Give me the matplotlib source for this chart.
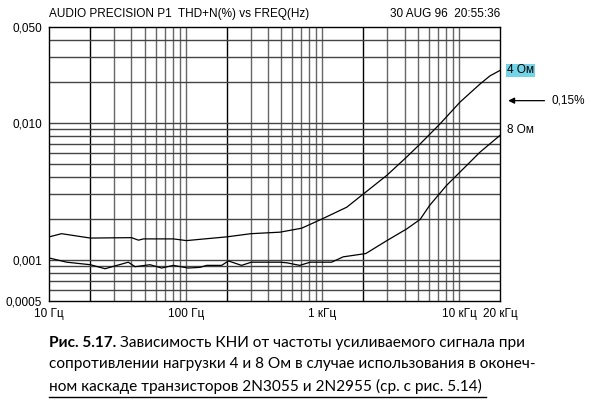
import matplotlib
matplotlib.use("Agg")
import matplotlib.pyplot as plt
from matplotlib.ticker import NullFormatter

plt.rcParams['font.family'] = ['Liberation Sans Narrow', 'Liberation Sans', 'DejaVu Sans']

# 4 Ohm load
freq4 = [10, 12.3, 20, 40, 45, 49, 81, 101, 200, 300, 490, 706, 1000, 1510,
         2080, 2965, 4150, 5200, 7280, 10200, 14300, 16900, 20000]
thd4 = [0.00147, 0.00155, 0.00144, 0.00145, 0.00139, 0.00142, 0.00142, 0.00138,
        0.00147, 0.00155, 0.00159, 0.0017, 0.00199, 0.00242, 0.00312, 0.00413,
        0.00563, 0.0070, 0.00982, 0.01416, 0.0192, 0.0220, 0.0241]

# 8 Ohm load
freq8 = [10, 13.4, 20, 25.6, 37.9, 42.5, 54.7, 66.5, 81, 104, 127, 142, 183, 205,
         256, 302, 490, 550, 683, 815, 1170, 1420, 2080, 2970, 4150, 5200, 6100,
         8100, 10200, 14300, 20000]
thd8 = [0.00103, 0.00096, 0.00092, 0.00086, 0.00096, 0.00089, 0.00092, 0.00087,
        0.00091, 0.00087, 0.00088, 0.00091, 0.00091, 0.00098, 0.00091, 0.00096,
        0.00096, 0.00095, 0.00091, 0.00096, 0.00096, 0.00105, 0.00111, 0.00138,
        0.00168, 0.00197, 0.00249, 0.00348, 0.00437, 0.00611, 0.00809]

xticks = [10, 100, 1000, 10000, 20000]
xlabels = ['10 Гц', '100 Гц', '1 кГц', '10 кГц', '20 кГц']
yticks = [0.0005, 0.001, 0.01, 0.05]
ylabels = ['0,0005', '0,001', '0,010', '0,050']

caption = ['Зависимость КНИ от частоты усиливаемого сигнала при',
           'сопротивлении нагрузки 4 и 8 Ом в случае использования в оконеч-',
           'ном каскаде транзисторов 2N3055 и 2N2955 (ср. с рис. 5.14)']

fig = plt.figure(figsize=(5.91, 4.0), dpi=100)
ax = fig.add_axes([0.0834, 0.2475, 0.7626, 0.685])
ax.set_xscale('log')
ax.set_yscale('log')
ax.set_xlim(10, 20000)
ax.set_ylim(0.0005, 0.05)

# grid: every 1..9 step of each decade
for dec in [10, 100, 1000, 10000]:
    for m in range(1, 10):
        f = dec * m
        if f <= 10 or f >= 20000:
            continue
        col = 'black' if m == 2 else '#666666'
        ax.axvline(f, color=col, lw=1.0, zorder=1)
for dec in [0.0001, 0.001, 0.01]:
    for m in range(1, 10):
        v = dec * m
        if v <= 0.0005 or v >= 0.05:
            continue
        ax.axhline(v, color='#444444', lw=1.0, zorder=1)

ax.plot(freq4, thd4, color='black', lw=0.9, zorder=3)
ax.plot(freq8, thd8, color='black', lw=0.9, zorder=3)

ax.set_xticks(xticks)
ax.set_xticklabels(xlabels)
ax.set_yticks(yticks)
ax.set_yticklabels(ylabels)
ax.xaxis.set_minor_formatter(NullFormatter())
ax.yaxis.set_minor_formatter(NullFormatter())
ax.tick_params(which='both', length=0, labelsize=8.5, pad=5)
for s in ax.spines.values():
    s.set_color('black')
    s.set_linewidth(1.0)

ax.text(0.0, 1.025, 'AUDIO PRECISION P1  THD+N(%) vs FREQ(Hz)', transform=ax.transAxes,
        ha='left', va='bottom', fontsize=8.5)
ax.text(1.0, 1.025, '30 AUG 96  20:55:36', transform=ax.transAxes,
        ha='right', va='bottom', fontsize=8.5)

ax.annotate('4 Ом', xy=(freq4[-1], thd4[-1]), xytext=(5, 0), textcoords='offset points',
            ha='left', va='center', fontsize=8.5, annotation_clip=False,
            bbox=dict(boxstyle='square,pad=0.05', fc='#72d4e6', ec='none'))
ax.annotate('8 Ом', xy=(freq8[-1], thd8[-1]), xytext=(5, 4), textcoords='offset points',
            ha='left', va='center', fontsize=8.5, annotation_clip=False)
ax.annotate('', xy=(1.012, 0.0145), xycoords=('axes fraction', 'data'),
            xytext=(1.105, 0.0145), textcoords=('axes fraction', 'data'),
            arrowprops=dict(arrowstyle='-|>', color='black', lw=0.9, mutation_scale=9),
            annotation_clip=False)
ax.text(1.115, 0.0145, '0,15%', transform=ax.get_yaxis_transform(), ha='left',
        va='center', fontsize=8.5)

# caption
cap_font = ['Lato', 'DejaVu Sans']
cap_size = 11.1
fig.canvas.draw()
r = fig.canvas.get_renderer()
x0 = 49 / 591
rows = [343, 364, 386]
t = fig.text(x0, 1 - rows[0] / 400, 'Рис. 5.17.', fontsize=cap_size, fontweight='bold',
             family=cap_font, va='center')
bb = t.get_window_extent(renderer=r)
starts = [bb.x1 + 4, 49, 49]
last = None
for line, y, xs in zip(caption, rows, starts):
    last = fig.text(xs / 591, 1 - y / 400, line, fontsize=cap_size, family=cap_font,
                    va='center')
end = last.get_window_extent(renderer=r).x1 + 4
fig.add_artist(plt.Line2D([x0, end / 591], [1 - 397 / 400, 1 - 397 / 400],
                          transform=fig.transFigure, color='black', lw=1.0))

fig.savefig('out.png', dpi=100)
